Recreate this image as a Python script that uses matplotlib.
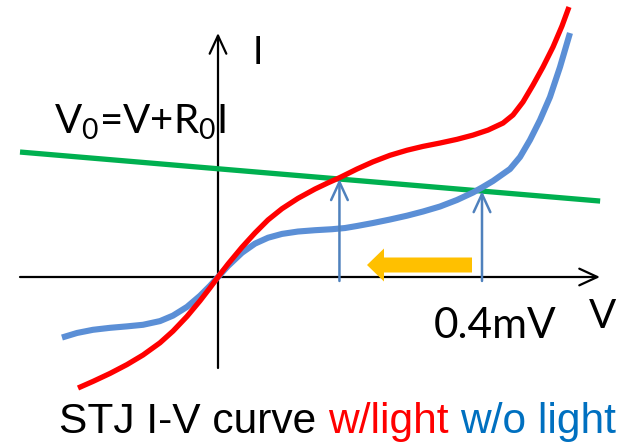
import matplotlib
matplotlib.use("Agg")
import matplotlib.pyplot as plt
from matplotlib.patches import FancyArrowPatch, FancyArrow

# ---------------- data (V in mV, I in arbitrary units) ----------------
v_light = [-0.2121, -0.1894, -0.1636, -0.1379, -0.1136, -0.0879, -0.0682, -0.0470, -0.0273,
           -0.0121, 0.0, 0.0152, 0.0364, 0.0561, 0.0758, 0.0970, 0.1212, 0.1470, 0.1667,
           0.1848, 0.2106, 0.2348, 0.2606, 0.2864, 0.3106, 0.3364, 0.3621, 0.3864, 0.4091,
           0.4318, 0.4470, 0.4621, 0.4773, 0.4924, 0.5076, 0.5212, 0.5318]
i_light = [-0.1682, -0.1582, -0.1461, -0.1327, -0.1182, -0.0997, -0.0820, -0.0597, -0.0361,
           -0.0164, 0.0, 0.0197, 0.0452, 0.0668, 0.0865, 0.1035, 0.1192, 0.1333, 0.1427,
           0.1508, 0.1636, 0.1745, 0.1844, 0.1921, 0.1979, 0.2030, 0.2086, 0.2150, 0.2226,
           0.2332, 0.2455, 0.2652, 0.2909, 0.3182, 0.3485, 0.3803, 0.4091]

v_dark = [-0.2364, -0.2136, -0.1894, -0.1636, -0.1379, -0.1136, -0.0879, -0.0682, -0.0470,
          -0.0273, -0.0121, 0.0, 0.0152, 0.0364, 0.0561, 0.0758, 0.0970, 0.1212, 0.1470,
          0.1727, 0.1924, 0.2106, 0.2348, 0.2606, 0.2864, 0.3106, 0.3364, 0.3621, 0.3864,
          0.4000, 0.4167, 0.4424, 0.4576, 0.4727, 0.4879, 0.5030, 0.5182, 0.5333]
i_dark = [-0.0917, -0.0848, -0.0800, -0.0770, -0.0748, -0.0724, -0.0668, -0.0585, -0.0453,
          -0.0285, -0.0133, 0.0, 0.0167, 0.0368, 0.0506, 0.0595, 0.0653, 0.0689, 0.0709,
          0.0724, 0.0742, 0.0773, 0.0818, 0.0871, 0.0929, 0.0992, 0.1068, 0.1167, 0.1280,
          0.1356, 0.1455, 0.1636, 0.1818, 0.2076, 0.2379, 0.2727, 0.3182, 0.3697]

# load line V0 = V + R0*I
V0 = 1.94
R0 = 11.83
v_load = [-0.300, 0.579]
i_load = [(V0 - v) / R0 for v in v_load]

# operating points (mV)
v_cross = [0.184, 0.400]

title_parts = ["STJ I-V curve ", "w/light ", "w/o light"]
title_colors = ["black", "#FF0000", "#0070C0"]

# ---------------- figure ----------------
W, H = 627, 442
fig = plt.figure(figsize=(W / 100, H / 100), dpi=100)
ax = fig.add_axes([0, 0, 1, 1])
S = 660.0  # px per unit
ox, oy = 218, 277
ax.set_xlim(-ox / S, (W - ox) / S)
ax.set_ylim((oy - H) / S, oy / S)
ax.axis("off")

def px(x, y):
    return ((x - ox) / S, (oy - y) / S)

# axes with open arrowheads
ax_kw = dict(arrowstyle="->,head_length=13,head_width=6", mutation_scale=1,
             color="black", lw=1.6, shrinkA=0, shrinkB=0, zorder=2)
ax.add_patch(FancyArrowPatch(px(20, oy), px(600, oy), **ax_kw))
ax.add_patch(FancyArrowPatch(px(ox, 368), px(ox, 33), **ax_kw))

# load line
ax.plot(v_load, i_load, color="#00B050", lw=3.8, solid_capstyle="butt", zorder=3)

# curves
ax.plot(v_dark, i_dark, color="#5B8FD6", lw=4.4, solid_capstyle="butt",
        solid_joinstyle="round", zorder=4)
ax.plot(v_light, i_light, color="#FF0000", lw=3.8, solid_capstyle="butt",
        solid_joinstyle="round", zorder=5)

# vertical arrows to the operating points
for vc in v_cross:
    ic = (V0 - vc) / R0
    ax.add_patch(FancyArrowPatch((vc, -0.006), (vc, ic),
                                 arrowstyle="->,head_length=13,head_width=6",
                                 mutation_scale=1, color="#4F81BD", lw=1.8,
                                 shrinkA=0, shrinkB=0, zorder=6))

# orange arrow
x0, y0 = px(472, 265)
x1, _ = px(367, 265)
ax.add_patch(FancyArrow(x0, y0, x1 - x0, 0, width=15 / S, head_width=33 / S,
                        head_length=17 / S, length_includes_head=True,
                        color="#FFC000", lw=0, zorder=6))

# texts
cal = ["Lato", "DejaVu Sans"]
ax.text(*px(253, 64), "I", fontsize=27, family=cal, va="baseline", ha="left")
ax.text(*px(54, 133), r"V$_\mathregular{0}$=V+R$_\mathregular{0}$I", fontsize=29,
        family=cal, va="baseline", ha="left")
ax.text(*px(434, 338), "0.4mV", fontsize=30.5, family=cal, va="baseline", ha="left")
ax.text(*px(589, 328), "V", fontsize=29, family=cal, va="baseline", ha="left")

t = ax.text(*px(59, 433), title_parts[0], fontsize=30.6, family=["Liberation Sans"],
            color=title_colors[0], va="baseline", ha="left")
for part, col in zip(title_parts[1:], title_colors[1:]):
    t = ax.annotate(part, xy=(1, 0), xycoords=t, va="bottom", ha="left",
                    fontsize=30.6, family=["Liberation Sans"], color=col)

fig.savefig("out.png", dpi=100)
